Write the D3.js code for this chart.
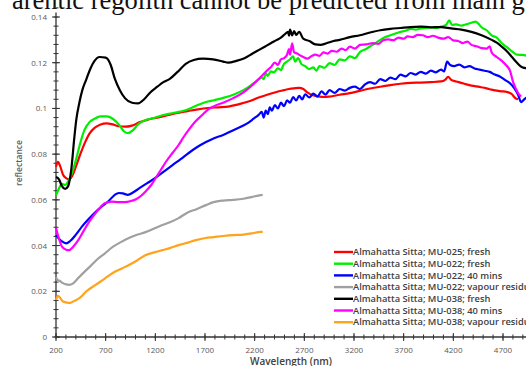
<!DOCTYPE html>
<html><head><meta charset="utf-8">
<script src="https://cdn.jsdelivr.net/npm/d3@7"></script>
<style>
html,body{margin:0;padding:0;background:#fff;overflow:hidden;}
svg{display:block;}
</style></head>
<body>
<svg id="chart" width="526" height="366"></svg>
<script>
// ---- data ----
const seriesNames = [
  "Almahatta Sitta; MU-025; fresh",
  "Almahatta Sitta; MU-022; fresh",
  "Almahatta Sitta; MU-022; 40 mins",
  "Almahatta Sitta; MU-022; vapour residue",
  "Almahatta Sitta; MU-038; fresh",
  "Almahatta Sitta; MU-038; 40 mins",
  "Almahatta Sitta; MU-038; vapour residue"
];
const seriesColors = ["#ff0000","#00ee00","#0000ff","#a0a0a0","#000000","#ff00ff","#ffa31a"];

const mu025Fresh = [[200,0.0745],[220,0.0766],[240,0.075],[271,0.071],[302,0.0695],[332,0.069],[363,0.0705],[404,0.075],[445,0.080],[486,0.0845],[537,0.089],[588,0.0915],[649,0.093],[710,0.0935],[771,0.093],[832,0.0922],[894,0.092],[965,0.0925],[1046,0.094],[1118,0.095],[1220,0.096],[1322,0.097],[1424,0.098],[1526,0.0988],[1628,0.0996],[1730,0.1002],[1832,0.1005],[1934,0.1008],[2036,0.1018],[2138,0.103],[2240,0.1048],[2342,0.1062],[2444,0.1075],[2495,0.108],[2546,0.1085],[2597,0.1088],[2648,0.109],[2689,0.1085],[2730,0.107],[2770,0.106],[2811,0.1055],[2852,0.1052],[2903,0.105],[2954,0.1052],[3056,0.106],[3158,0.1067],[3260,0.1077],[3362,0.1087],[3464,0.1095],[3566,0.1102],[3668,0.1108],[3770,0.1112],[3872,0.1113],[3974,0.1115],[4076,0.1118],[4117,0.1125],[4148,0.1138],[4178,0.1125],[4229,0.1118],[4280,0.1112],[4331,0.1105],[4382,0.11],[4464,0.1094],[4535,0.1088],[4586,0.1082],[4637,0.1078],[4688,0.1075],[4739,0.1072],[4790,0.1062],[4821,0.1046],[4852,0.104]];

const mu022Fresh = [[200,0.062],[230,0.065],[260,0.067],[292,0.0665],[322,0.068],[363,0.072],[404,0.078],[445,0.085],[486,0.0905],[537,0.094],[588,0.0955],[649,0.0965],[710,0.0965],[771,0.0955],[832,0.093],[883,0.090],[924,0.0892],[975,0.0905],[1026,0.093],[1098,0.0948],[1179,0.0958],[1271,0.097],[1352,0.0978],[1434,0.0985],[1526,0.0995],[1628,0.1015],[1710,0.1028],[1791,0.1036],[1883,0.1046],[1985,0.106],[2087,0.108],[2158,0.110],[2220,0.112],[2271,0.1135],[2291,0.1128],[2311,0.1155],[2332,0.1142],[2362,0.1162],[2393,0.1158],[2434,0.1175],[2464,0.1168],[2495,0.1195],[2526,0.1205],[2556,0.1215],[2587,0.1228],[2607,0.1205],[2638,0.122],[2669,0.1195],[2709,0.1185],[2750,0.1172],[2791,0.118],[2822,0.1165],[2852,0.1185],[2903,0.1178],[2954,0.1198],[3005,0.119],[3056,0.1215],[3107,0.121],[3158,0.1228],[3209,0.122],[3260,0.1247],[3321,0.126],[3362,0.1272],[3413,0.1285],[3464,0.130],[3515,0.1312],[3566,0.132],[3617,0.1328],[3668,0.1335],[3719,0.134],[3770,0.1348],[3821,0.1345],[3872,0.135],[3923,0.1352],[3974,0.1355],[4025,0.1352],[4076,0.1358],[4127,0.1365],[4158,0.1385],[4188,0.1365],[4229,0.1368],[4280,0.1362],[4331,0.1368],[4382,0.1375],[4423,0.138],[4454,0.137],[4484,0.1355],[4535,0.1342],[4586,0.132],[4637,0.131],[4688,0.1285],[4739,0.1268],[4790,0.125],[4841,0.1235],[4892,0.1234],[4943,0.123]];

const mu022Min40 = [[200,0.0446],[230,0.043],[260,0.0418],[302,0.041],[343,0.042],[404,0.045],[465,0.0485],[526,0.0515],[598,0.0547],[659,0.057],[730,0.0595],[792,0.0622],[832,0.063],[873,0.0628],[924,0.0622],[975,0.0632],[1036,0.065],[1118,0.0673],[1200,0.0696],[1281,0.0722],[1373,0.0752],[1455,0.0778],[1536,0.0805],[1618,0.083],[1710,0.0853],[1791,0.087],[1883,0.0884],[1985,0.0905],[2087,0.0925],[2138,0.0938],[2189,0.0955],[2240,0.0972],[2271,0.0985],[2291,0.096],[2311,0.099],[2332,0.0975],[2352,0.1005],[2373,0.099],[2403,0.1015],[2434,0.1],[2464,0.1025],[2495,0.101],[2526,0.1035],[2556,0.1025],[2587,0.105],[2618,0.1035],[2648,0.1055],[2679,0.104],[2709,0.1062],[2750,0.1048],[2791,0.1065],[2832,0.1052],[2873,0.1075],[2913,0.106],[2954,0.108],[3005,0.1068],[3056,0.1085],[3107,0.1078],[3158,0.109],[3209,0.1095],[3260,0.1085],[3311,0.1105],[3362,0.1115],[3413,0.1108],[3464,0.1128],[3515,0.112],[3566,0.1135],[3617,0.1128],[3668,0.1148],[3719,0.114],[3770,0.1155],[3821,0.1148],[3872,0.116],[3923,0.1152],[3974,0.1165],[4025,0.1158],[4076,0.117],[4107,0.1162],[4137,0.1205],[4168,0.119],[4209,0.1185],[4260,0.1192],[4311,0.118],[4362,0.1185],[4413,0.1175],[4464,0.117],[4515,0.1165],[4566,0.116],[4617,0.1148],[4668,0.114],[4719,0.1125],[4770,0.111],[4811,0.109],[4852,0.106],[4882,0.1028],[4913,0.104],[4943,0.105]];

const mu022Vapour = [[200,0.0262],[220,0.0248],[240,0.0245],[260,0.0238],[302,0.023],[332,0.0228],[373,0.0235],[424,0.0258],[486,0.0285],[547,0.031],[608,0.0337],[690,0.0365],[771,0.0394],[853,0.0415],[934,0.0433],[1016,0.0447],[1108,0.046],[1189,0.0475],[1271,0.049],[1352,0.0503],[1434,0.052],[1526,0.0545],[1608,0.0558],[1710,0.0577],[1786,0.059],[1883,0.0597],[1985,0.060],[2087,0.0605],[2168,0.0612],[2260,0.0621],[2281,0.0622]];

const mu038Fresh = [[200,0.070],[230,0.069],[260,0.066],[292,0.0648],[322,0.066],[353,0.073],[384,0.087],[404,0.095],[435,0.1025],[465,0.108],[506,0.1128],[547,0.1175],[588,0.1208],[639,0.1225],[700,0.1222],[751,0.119],[792,0.113],[843,0.108],[894,0.1045],[965,0.1025],[1026,0.1022],[1087,0.104],[1149,0.107],[1220,0.1095],[1281,0.1115],[1342,0.1128],[1424,0.116],[1506,0.1195],[1587,0.1212],[1679,0.1218],[1781,0.1215],[1883,0.1205],[1934,0.120],[2016,0.1208],[2097,0.122],[2179,0.124],[2240,0.1255],[2301,0.127],[2362,0.1285],[2424,0.130],[2464,0.131],[2505,0.1325],[2536,0.1335],[2546,0.1318],[2556,0.1345],[2577,0.132],[2597,0.1338],[2618,0.1322],[2648,0.1335],[2689,0.1305],[2750,0.1295],[2811,0.128],[2862,0.1278],[2923,0.1285],[2995,0.1295],[3056,0.130],[3158,0.1312],[3260,0.132],[3362,0.1332],[3464,0.1342],[3566,0.1348],[3668,0.1352],[3770,0.1356],[3872,0.1358],[3974,0.1355],[4076,0.1356],[4178,0.135],[4280,0.1345],[4382,0.1335],[4484,0.132],[4586,0.130],[4637,0.1288],[4688,0.127],[4739,0.125],[4790,0.1225],[4841,0.120],[4892,0.118],[4943,0.1175]];

const mu038Min40 = [[200,0.0477],[230,0.043],[260,0.0395],[302,0.0382],[332,0.038],[373,0.0395],[424,0.0424],[486,0.047],[547,0.0512],[618,0.0552],[690,0.0585],[761,0.0592],[832,0.059],[894,0.059],[955,0.0595],[1006,0.0603],[1057,0.0618],[1108,0.064],[1159,0.0665],[1210,0.070],[1261,0.0735],[1312,0.077],[1373,0.0805],[1434,0.084],[1485,0.0875],[1536,0.0906],[1608,0.0945],[1669,0.097],[1730,0.0995],[1791,0.101],[1883,0.1025],[1985,0.1045],[2087,0.107],[2158,0.1095],[2220,0.112],[2281,0.1146],[2322,0.1165],[2362,0.118],[2403,0.12],[2434,0.119],[2464,0.1215],[2495,0.122],[2526,0.1235],[2546,0.126],[2556,0.1235],[2577,0.1285],[2597,0.1245],[2628,0.124],[2658,0.1232],[2689,0.1225],[2730,0.1218],[2770,0.1228],[2811,0.1235],[2852,0.123],[2893,0.1245],[2934,0.124],[2974,0.1252],[3025,0.1248],[3076,0.1262],[3117,0.1255],[3158,0.127],[3209,0.1262],[3260,0.1278],[3321,0.128],[3393,0.1286],[3444,0.1282],[3495,0.1298],[3546,0.1302],[3597,0.1298],[3648,0.131],[3699,0.1305],[3740,0.1315],[3791,0.1312],[3842,0.1322],[3893,0.132],[3944,0.1312],[3995,0.1318],[4046,0.131],[4097,0.1305],[4148,0.1312],[4199,0.1298],[4250,0.1295],[4296,0.1286],[4342,0.1292],[4382,0.1278],[4433,0.1272],[4484,0.1264],[4535,0.1262],[4566,0.1272],[4586,0.1245],[4637,0.1225],[4688,0.1208],[4729,0.119],[4770,0.1165],[4801,0.1116],[4831,0.1085],[4852,0.1067],[4882,0.1052]];

const mu038Vapour = [[200,0.0162],[220,0.018],[240,0.0172],[271,0.0155],[312,0.015],[343,0.0149],[384,0.0158],[435,0.017],[506,0.02],[598,0.0228],[690,0.0255],[771,0.028],[863,0.030],[934,0.0315],[1016,0.0335],[1104,0.0359],[1189,0.037],[1271,0.038],[1352,0.039],[1434,0.0402],[1526,0.0413],[1608,0.0424],[1706,0.0433],[1786,0.0437],[1883,0.0442],[1985,0.0446],[2087,0.0448],[2168,0.0453],[2260,0.046],[2281,0.046]];

const seriesData = [mu025Fresh, mu022Fresh, mu022Min40, mu022Vapour, mu038Fresh, mu038Min40, mu038Vapour];
// draw order (bottom to top)
const drawOrder = [3, 6, 0, 2, 1, 5, 4];

const xTickValues = [200,700,1200,1700,2200,2700,3200,3700,4200,4700,5200];
const yTickValues = [0,0.02,0.04,0.06,0.08,0.1,0.12,0.14];
const yTickLabels = ["0","0.02","0.04","0.06","0.08","0.1","0.12","0.14"];

// ---- drawing ----
const svg = d3.select("#chart");
const x = d3.scaleLinear().domain([200, 4700]).range([56, 503]);
const y = d3.scaleLinear().domain([0, 0.14]).range([337, 17]);

// clipped running text at top (cropped from the page)
svg.append("text")
  .attr("x", 12).attr("y", 9)
  .attr("font-family", "'Liberation Serif', 'Times New Roman', serif")
  .attr("font-size", 26.5)
  .attr("fill", "#111")
  .text("arentic regolith cannot be predicted from main g");

const defs = svg.append("defs");
defs.append("filter").attr("id","soft")
  .attr("filterUnits","userSpaceOnUse").attr("x",0).attr("y",0).attr("width",526).attr("height",366)
  .append("feGaussianBlur").attr("stdDeviation",0.45);

const axisColor = "#333";
const labelColor = "#595959";
const fontFam = "'Open Sans', 'Liberation Sans', Arial, sans-serif";

// X axis
const xAxisG = svg.append("g").attr("transform", `translate(0,${y(0)})`);
const xMinor = d3.range(200, 5301, 100);
xAxisG.append("line").attr("x1", x(200)).attr("x2", x(5300)).attr("stroke", axisColor).attr("stroke-width", 1.3);
xAxisG.selectAll("line.minor").data(xMinor).enter().append("line")
  .attr("class","minor")
  .attr("x1", d => x(d)).attr("x2", d => x(d))
  .attr("y1", -2.5).attr("y2", 2.5)
  .attr("stroke", axisColor).attr("stroke-width", 1);
xAxisG.selectAll("line.major").data(xTickValues).enter().append("line")
  .attr("class","major")
  .attr("x1", d => x(d)).attr("x2", d => x(d))
  .attr("y1", -4).attr("y2", 4)
  .attr("stroke", axisColor).attr("stroke-width", 1);
xAxisG.selectAll("text").data(xTickValues).enter().append("text")
  .attr("x", d => x(d)).attr("y", 16)
  .attr("text-anchor", "middle")
  .attr("font-family", fontFam).attr("font-size", 8).attr("fill", labelColor)
  .text(d => d);

// Y axis
const yAxisG = svg.append("g").attr("transform", `translate(${x(200)},0)`);
const yMinor = d3.range(0, 0.1441, 0.004);
yAxisG.append("line").attr("y1", y(0)).attr("y2", y(0.142)).attr("stroke", axisColor).attr("stroke-width", 1.3);
yAxisG.selectAll("line.minor").data(yMinor).enter().append("line")
  .attr("class","minor")
  .attr("y1", d => y(d)).attr("y2", d => y(d))
  .attr("x1", -2.5).attr("x2", 2.5)
  .attr("stroke", axisColor).attr("stroke-width", 1);
yAxisG.selectAll("line.major").data(yTickValues).enter().append("line")
  .attr("class","major")
  .attr("y1", d => y(d)).attr("y2", d => y(d))
  .attr("x1", -4).attr("x2", 4)
  .attr("stroke", axisColor).attr("stroke-width", 1);
yAxisG.selectAll("text").data(yTickValues).enter().append("text")
  .attr("x", -9).attr("y", d => y(d) + 3)
  .attr("text-anchor", "end")
  .attr("font-family", fontFam).attr("font-size", 8).attr("fill", labelColor)
  .text((d, i) => yTickLabels[i]);

// axis titles
svg.append("text")
  .attr("transform", `translate(22,163) rotate(-90)`)
  .attr("text-anchor", "middle")
  .attr("font-family", fontFam).attr("font-size", 8.5).attr("font-weight", 600).attr("fill", labelColor)
  .text("reflectance");
svg.append("text")
  .attr("x", 291).attr("y", 365)
  .attr("text-anchor", "middle")
  .attr("font-family", fontFam).attr("font-size", 10).attr("font-weight", 600).attr("fill", "#404040")
  .text("Wavelength (nm)");

// lines
const line = d3.line().x(d => x(d[0])).y(d => y(d[1])).curve(d3.curveMonotoneX);
const linesG = svg.append("g").attr("filter", "url(#soft)");
drawOrder.forEach(i => {
  linesG.append("path")
    .datum(seriesData[i])
    .attr("d", line)
    .attr("fill", "none")
    .attr("stroke", seriesColors[i])
    .attr("stroke-width", 2.2)
    .attr("stroke-linejoin", "round");
});

// legend
const legend = svg.append("g").attr("transform", "translate(334,252)");
seriesNames.forEach((name, i) => {
  const g = legend.append("g").attr("transform", `translate(0,${i * 11.7})`);
  g.append("line").attr("x1", 0).attr("x2", 19).attr("y1", 0).attr("y2", 0)
    .attr("stroke", seriesColors[i]).attr("stroke-width", 2.4);
  g.append("text").attr("x", 19).attr("y", 3.2)
    .attr("font-family", fontFam).attr("font-size", 9.3).attr("font-weight", 600).attr("fill", "#404040")
    .text(name);
});
</script>
</body></html>
